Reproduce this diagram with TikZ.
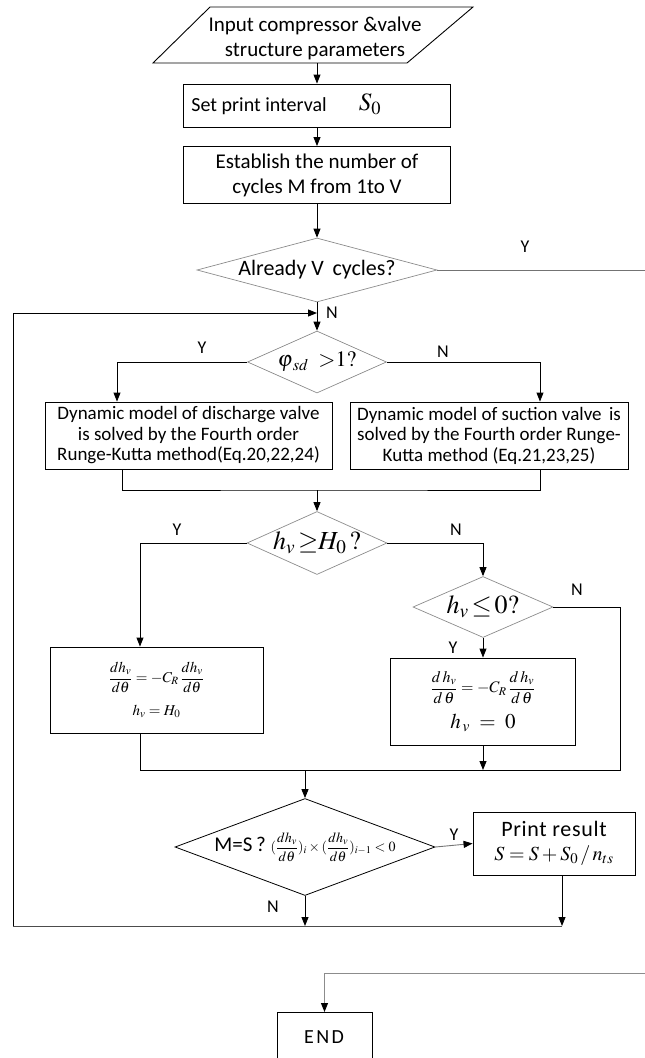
\documentclass[tikz,border=0pt]{standalone}
\usepackage{amsmath}
\usepackage{mathptmx}
\usepackage[no-math]{fontspec}
\setmainfont{Carlito}
\usetikzlibrary{shapes.geometric,arrows.meta,calc}
\begin{document}
\begin{tikzpicture}[x=1pt,y=-1pt,line width=0.9pt,
  arr/.style={-{Triangle[length=9pt,width=7pt,color=black]}},
  txt/.style={font=\fontsize{21}{25}\selectfont,align=center,inner sep=0pt},
  dyn/.style={font=\fontsize{19}{20.5}\selectfont,align=center,inner sep=0pt},
  lab/.style={font=\fontsize{18}{18}\selectfont,inner sep=0pt},
  box/.style={draw,rectangle,inner sep=0pt,align=center},
  dia/.style={draw=black!45,line width=0.7pt,diamond,inner sep=0pt}]
\useasboundingbox (0,0) rectangle (645,1058);
\clip (0,0) rectangle (645,1058);

% input parallelogram
\draw (153,63) -- (407,63) -- (473,7) -- (210,7) -- cycle;
\node[txt] (inp) at (315,38) {Input compressor \&valve\\structure parameters};
\coordinate (inpb) at (317,63);

% set print interval
\node[box,minimum width=267,minimum height=43] (b1) at (317,105.5) {};
\node[font=\fontsize{20}{20}\selectfont,inner sep=0pt,anchor=west] (b1t) at (191,106) {Set print interval};
\node[font=\fontsize{25}{25}\selectfont,inner sep=0pt] (b1s) at (370,104) {$S_{0}$};

% establish
\node[box,txt,minimum width=267,minimum height=57] (b2) at (317,175)
  {\fontsize{21}{28}\selectfont Establish the number of\\cycles M from 1to V};

% already V cycles
\node[dia,minimum width=240,minimum height=64] (dA) at (317,270)
  {\makebox[0pt]{\fontsize{22}{22}\selectfont Already V \,cycles?}};
\coordinate (aY) at (645,270);
\node[lab] (yA) at (525,247) {Y};

% phi diamond
\node[dia,minimum width=139,minimum height=62] (dphi) at (317,362)
  {\makebox[0pt]{\fontsize{22}{22}\selectfont $\varphi_{\,sd}\;\;{>}1?$}};
\coordinate (loopj) at (317,313);
\coordinate (lt) at (13,313);
\coordinate (lb) at (13,926);
\node[lab] (nA) at (332,313) {N};
\node[lab] (yphi) at (202,348) {Y};
\node[lab] (nphi) at (443,352) {N};

% dynamic models
\node[box,dyn,minimum width=287,minimum height=67] (bl) at (188.5,435.5)
  {Dynamic model of discharge valve\\is solved by the Fourth order\\Runge-Kutta method(Eq.20,22,24)};
\node[box,dyn,minimum width=278,minimum height=67] (br) at (489,435.5)
  {Dynamic model of suction valve \,is\\solved by the Fourth order Runge-\\Kutta method (Eq.21,23,25)};
\coordinate (m1) at (317,490);

% h_v >= H_0
\node[dia,minimum width=140,minimum height=63] (dh) at (317,543)
  {\makebox[0pt]{\fontsize{26}{26}\selectfont $h_{v}\,{\geq}H_{0}\,?$}};
\node[lab] (yh) at (177,530) {Y};
\node[lab] (nh) at (456,530) {N};

% left formula box
\node[box,minimum width=213,minimum height=86,font=\fontsize{15}{15}\selectfont] (fl) at (156.5,690)
  {$\dfrac{dh_{v}}{d\theta}=-C_{R}\,\dfrac{dh_{v}}{d\theta}$\\[11pt]$h_{v}=H_{0}$};
\coordinate (flS) at ([xshift=-16.5]fl.south);
\coordinate (flN) at ([xshift=-16.5]fl.north);

% h_v <= 0
\node[dia,minimum width=140,minimum height=61] (dz) at (483,607)
  {\makebox[0pt]{\fontsize{26}{26}\selectfont $h_{v}\,{\leq}\,0?$}};
\node[lab] (nz) at (577,590) {N};
\node[lab] (yz) at (453,648) {Y};

% right formula box
\node[box,minimum width=185,minimum height=87,font=\fontsize{16}{16}\selectfont] (fr) at (483,701.5)
  {$\dfrac{d\,h_{v}}{d\,\theta}=-C_{R}\,\dfrac{d\,h_{v}}{d\,\theta}$\\[9pt]{\fontsize{21}{21}\selectfont $h_{\,v}\;=\;0$}};
\coordinate (m2) at (305,770);
\coordinate (m2r) at (620,770);

% M=S diamond
\node[draw,line width=0.8pt,diamond,inner sep=0pt,minimum width=260,minimum height=97] (dM) at (305,847)
  {\makebox[0pt]{\fontsize{21}{21}\selectfont M=S\,? \fontsize{14}{14}\selectfont
   $(\dfrac{dh_{v}}{d\theta})_{i}\times(\dfrac{dh_{v}}{d\theta})_{i-1}<0$}};
\node[lab] (yM) at (454,835) {Y};
\node[lab] (nM) at (273,907) {N};

% print result
\node[box,minimum width=162,minimum height=63] (pr) at (554,843.5)
  {{\fontsize{22}{22}\selectfont\addfontfeature{LetterSpace=3} Print result}\\[8pt]{\fontsize{20}{20}\selectfont $S=S+S_{0}\,/\,n_{ts}$}};
\coordinate (prS) at ([xshift=8]pr.south);

% END
\node[box,minimum width=95,minimum height=80,anchor=north] (end) at (324.5,1012) {};
\node[font=\fontsize{20}{20}\selectfont\addfontfeature{LetterSpace=12},inner sep=0pt] (endt) at (324,1037) {END};
\coordinate (eR) at (645,973);

% connectors
\draw[arr] (inpb) -- (b1.north);
\draw[arr] (b1) -- (b2);
\draw[arr] (b2) -- (dA);
\draw[black!55] (dA.east) -- (aY);
\draw[arr] (dA.south) -- (dphi.north);
\draw[arr] (lb) -- (lt) -- (loopj);
\draw[arr] (dphi.west) -| ([xshift=-71.5]bl.north);
\draw[arr] (dphi.east) -| ([xshift=51]br.north);
\draw ([xshift=-66.5]bl.south) |- (m1) -| ([xshift=51]br.south);
\draw[arr] (m1) -- (dh.north);
\draw[arr] (dh.west) -| (flN);
\draw[arr] (dh.east) -| (dz.north);
\draw[arr] (dz.south) -- (fr.north);
\draw (dz.east) -| (m2r) -- (flS |- m2) -- (flS);
\draw[arr] (fr.south) -- (fr.south |- m2);
\draw[arr] (m2) -- (dM.north);
\draw[arr,black!55] (dM.east) -- (pr.west);
\draw[arr] (prS) -- (prS |- lb);
\draw[arr] (dM.south) -- (dM.south |- lb);
\draw[black!70] (prS |- lb) -- (lb);
\draw[arr,black!45] (eR) -| (end.north);
\end{tikzpicture}
\end{document}
